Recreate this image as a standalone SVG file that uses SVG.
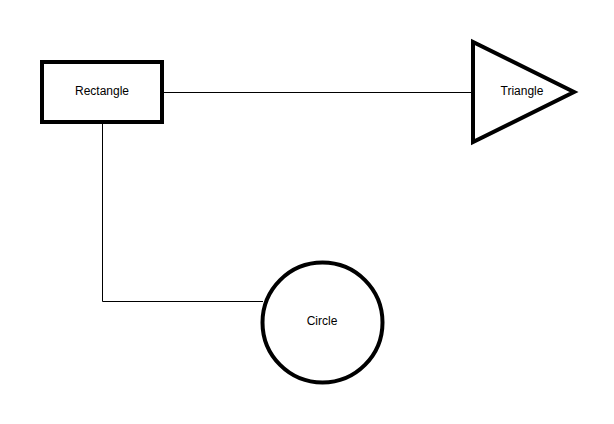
<svg xmlns="http://www.w3.org/2000/svg" width="614" height="424" viewBox="0 0 614 424">
<style>
.shape{fill:#ffffff;stroke:#000000;stroke-width:4}
.edge{fill:none;stroke:#000000;stroke-width:1}
.label{font-family:"Liberation Sans",Arial,sans-serif;font-size:12px;fill:#000000;text-anchor:middle;dominant-baseline:central}
</style>
<rect width="614" height="424" fill="#ffffff"/>
<g id="connectors">
<path class="edge" d="M162,92.5 H473"/>
<path class="edge" d="M102.5,122 V301.5 H263"/>
</g>
<g id="rectangle">
<rect class="shape" x="42" y="62" width="120" height="60"/>
<text class="label" x="102" y="91">Rectangle</text>
</g>
<g id="triangle">
<polygon class="shape" points="473,42 473,142 574,92"/>
<text class="label" x="522" y="91">Triangle</text>
</g>
<g id="circle">
<circle class="shape" cx="322.5" cy="322.5" r="60"/>
<text class="label" x="322" y="321">Circle</text>
</g>
</svg>
